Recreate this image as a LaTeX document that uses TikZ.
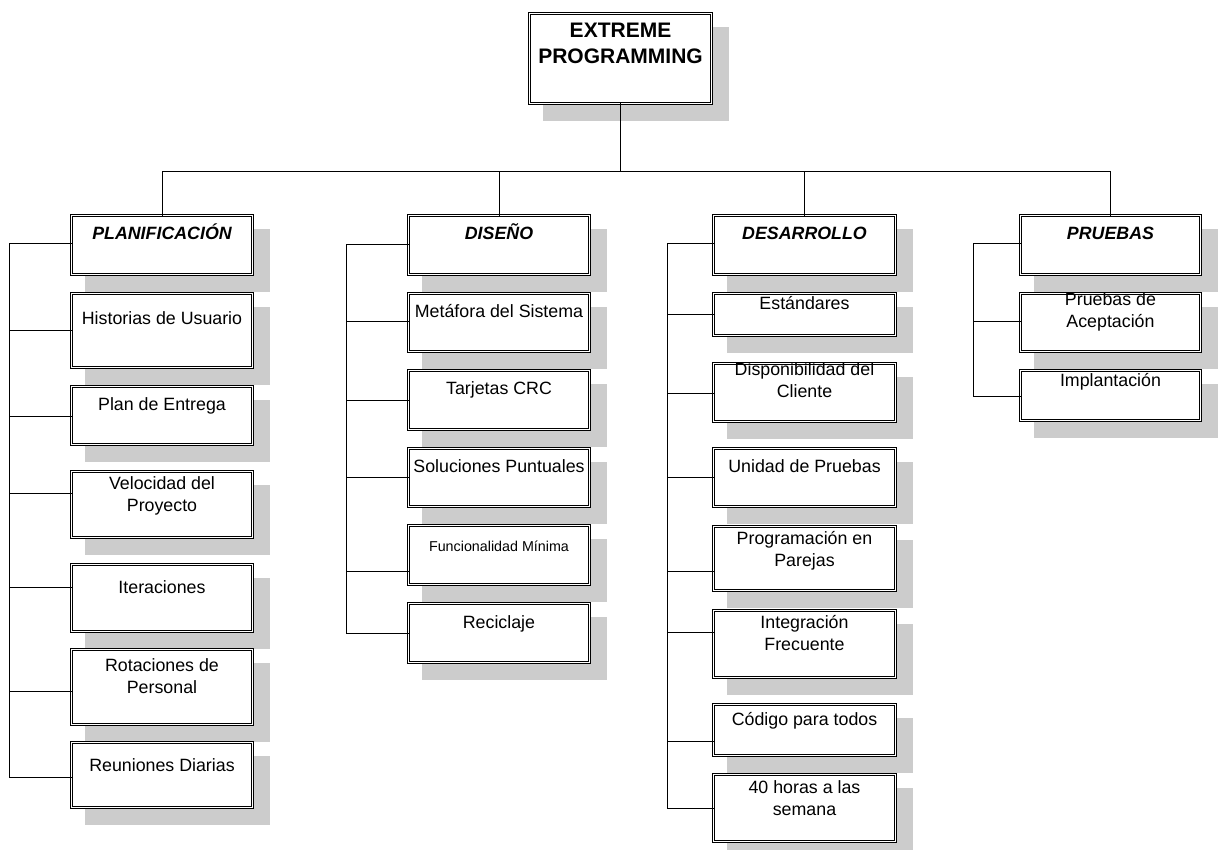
\documentclass[tikz,border=0pt]{standalone}
\usepackage{fontspec}
\setmainfont{Liberation Sans}
\usetikzlibrary{calc}
\definecolor{shadowc}{RGB}{204,204,204}
\newcommand\ftitle{\fontsize{21}{26}\selectfont\bfseries}
\newcommand\fhead{\fontsize{17.8}{22}\selectfont\bfseries\itshape}
\newcommand\fitem{\fontsize{17.8}{22}\selectfont}
\newcommand\fsmall{\fontsize{14.3}{17}\selectfont}
\tikzset{
  xbx/.style={draw=black, double=white, double distance=1.6pt, line width=0.8pt, fill=white, rectangle, inner sep=0pt, outer sep=0pt},
  xtxt/.style={anchor=base, inner sep=0pt, outer sep=0pt},
  ln/.style={draw=black, line width=1pt},
}
% name, x1, y1, x2, y2, baseline, font, text
\newcommand\xbox[8]{%
  \fill[shadowc] (#2+15,-#3-15) rectangle (#4+16,-#5-16);
  \node[xbx, minimum width={#4-#2-3.2}, minimum height={#5-#3-3.2}] (#1) at ({(#2+#4)/2},{-(#3+#5)/2}) {};
  \node[xtxt, font=#7] (#1-t) at ({(#2+#4)/2},-#6) {\begin{tabular}[t]{@{}c@{}}#8\end{tabular}};
}
\begin{document}
\begin{tikzpicture}[x=1pt,y=1pt]
\useasboundingbox (0,0) rectangle (1224,-850);
\clip (0,0) rectangle (1224,-850);
\fill[white] (0,0) rectangle (1224,-850);

\xbox{title}{528}{12}{713}{105}{38}{\ftitle}{EXTREME\\PROGRAMMING}

% PLANIFICACION
\xbox{plan}{70}{214}{254}{276}{240}{\fhead}{PLANIFICACIÓN}
\xbox{hist}{70}{292}{254}{369}{325}{\fitem}{Historias de Usuario}
\xbox{pent}{70}{385}{254}{446}{410}{\fitem}{Plan de Entrega}
\xbox{velo}{70}{470}{254}{539}{489}{\fitem}{Velocidad del\\Proyecto}
\xbox{iter}{70}{563}{254}{633}{593}{\fitem}{Iteraciones}
\xbox{rota}{70}{648}{254}{726}{671}{\fitem}{Rotaciones de\\Personal}
\xbox{reun}{70}{741}{254}{809}{771}{\fitem}{Reuniones Diarias}

% DISENO
\xbox{dise}{407}{214}{591}{276}{240}{\fhead}{DISEÑO}
\xbox{meta}{407}{292}{591}{353}{318}{\fitem}{Metáfora del Sistema}
\xbox{tarj}{407}{369}{591}{431}{395}{\fitem}{Tarjetas CRC}
\xbox{solu}{407}{447}{591}{508}{472}{\fitem}{Soluciones Puntuales}
\xbox{func}{407}{524}{591}{586}{551}{\fsmall}{Funcionalidad Mínima}
\xbox{reci}{407}{602}{591}{664}{628}{\fitem}{Reciclaje}

% DESARROLLO
\xbox{desa}{712}{214}{897}{276}{240}{\fhead}{DESARROLLO}
\xbox{esta}{712}{292}{897}{337}{310}{\fitem}{Estándares}
\xbox{disp}{712}{362}{897}{423}{375}{\fitem}{Disponibilidad del\\Cliente}
\xbox{unid}{712}{447}{897}{508}{472}{\fitem}{Unidad de Pruebas}
\xbox{prog}{712}{525}{897}{592}{544}{\fitem}{Programación en\\Parejas}
\xbox{inte}{712}{609}{897}{679}{628}{\fitem}{Integración\\Frecuente}
\xbox{codi}{712}{703}{897}{757}{725}{\fitem}{Código para todos}
\xbox{cuar}{712}{773}{897}{843}{793}{\fitem}{40 horas a las\\semana}

% PRUEBAS
\xbox{prue}{1019}{214}{1202}{276}{240}{\fhead}{PRUEBAS}
\xbox{acep}{1019}{292}{1202}{353}{306}{\fitem}{Pruebas de\\Aceptación}
\xbox{impl}{1019}{369}{1202}{422}{386}{\fitem}{Implantación}

% top tree
\coordinate (hub) at (0,-172);
\draw[ln] (title.south) -- (title.south |- hub);
\draw[ln] (plan.north |- hub) -- (prue.north |- hub);
\draw[ln] (plan.north |- hub) -- (plan.north);
\draw[ln] (dise.north |- hub) -- (dise.north);
\draw[ln] (desa.north |- hub) -- (desa.north);
\draw[ln] (prue.north |- hub) -- (prue.north);

% buses
\coordinate (pbus) at (9,-244);
\coordinate (dbus) at (346,-245);
\coordinate (ebus) at (667,-244);
\coordinate (rbus) at (973,-244);

\draw[ln] (pbus) -- (9,-777);
\foreach \n/\y in {plan/244,hist/331,pent/416,velo/493,iter/587,rota/691,reun/777}
  \draw[ln] (pbus |- 0,-\y) -- (\n.west |- 0,-\y);

\draw[ln] (dbus) -- (346,-633);
\foreach \n/\y in {dise/245,meta/322,tarj/400,solu/477,func/571,reci/633}
  \draw[ln] (dbus |- 0,-\y) -- (\n.west |- 0,-\y);

\draw[ln] (ebus) -- (667,-808);
\foreach \n/\y in {desa/244,esta/315,disp/393,unid/477,prog/571,inte/632,codi/741,cuar/808}
  \draw[ln] (ebus |- 0,-\y) -- (\n.west |- 0,-\y);

\draw[ln] (rbus) -- (973,-396);
\foreach \n/\y in {prue/244,acep/322,impl/396}
  \draw[ln] (rbus |- 0,-\y) -- (\n.west |- 0,-\y);
\end{tikzpicture}
\end{document}
